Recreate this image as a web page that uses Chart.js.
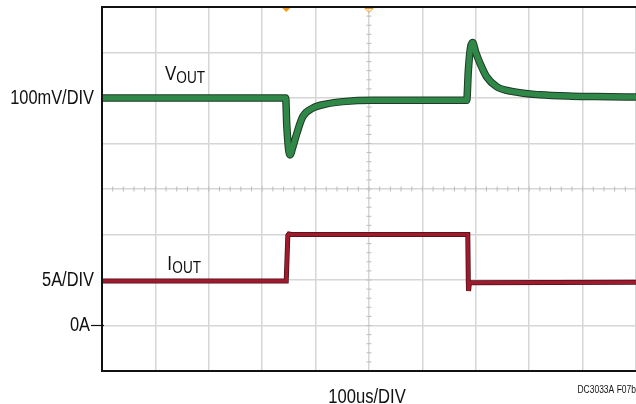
<!DOCTYPE html>
<html>
<head>
<meta charset="utf-8">
<script src="https://cdn.jsdelivr.net/npm/chart.js@4"></script>
<style>
html,body{margin:0;padding:0;background:#fff;}
canvas{display:block;}
</style>
</head>
<body>
<canvas id="c" width="636" height="404"></canvas>
<script>
// Time in microseconds (100us/DIV, 10 divisions)
const vTime = [0, 344, 346, 352, 358, 365, 376, 395, 421, 451, 507, 600, 683, 686, 690, 694, 700, 708, 720, 739, 770, 820, 880, 950, 1000];
// VOUT deviation in mV (100mV/DIV)
const vOut  = [0, 0, -60, -125, -105, -77, -41, -22, -13, -8, -5, -5, -5, 60, 110, 122, 100, 76, 47, 25, 14, 7, 4, 3, 2];
// IOUT in A (5A/DIV)
const iTime = [0, 345, 348, 350, 355, 685, 686, 686.5, 688, 1000];
const iOut  = [4.9, 4.9, 9.9, 10.05, 10.0, 10.0, 4.7, 3.8, 4.7, 4.75];

const xTicks = [0,100,200,300,400,500,600,700,800,900,1000];
const FONT = '"Liberation Sans", Arimo, Arial, sans-serif';

const vPts = vTime.map((t,i)=>({x:t,y:vOut[i]}));
const iPts = iTime.map((t,i)=>({x:t,y:iOut[i]}));

function txt(ctx, s, x, y, size, align, sx){
  ctx.save();
  ctx.font = size + 'px ' + FONT;
  ctx.textAlign = align;
  ctx.translate(x, y);
  ctx.scale(sx, 1);
  ctx.fillText(s, 0, 0);
  const w = ctx.measureText(s).width * sx;
  ctx.restore();
  return w;
}

const decor = {
  id:'decor',
  beforeDatasetsDraw(chart){
    const {ctx, scales:{x, yV}} = chart;
    ctx.save();
    ctx.strokeStyle = '#bdbdbd';
    ctx.lineWidth = 1;
    const cx = x.getPixelForValue(500);
    for (let v=-600; v<=200; v+=20){
      const py = yV.getPixelForValue(v);
      ctx.beginPath(); ctx.moveTo(cx-2.5,py); ctx.lineTo(cx+2.5,py); ctx.stroke();
    }
    const cy = yV.getPixelForValue(-200);
    for (let t=0; t<=1000; t+=20){
      const px = x.getPixelForValue(t);
      ctx.beginPath(); ctx.moveTo(px,cy-2.5); ctx.lineTo(px,cy+2.5); ctx.stroke();
    }
    ctx.restore();
  },
  afterDraw(chart){
    const {ctx, chartArea:a, scales:{x, yV, yI}} = chart;
    ctx.save();
    ctx.strokeStyle = '#111';
    ctx.lineWidth = 2;
    ctx.beginPath();
    ctx.moveTo(a.right, a.top); ctx.lineTo(a.left, a.top); ctx.lineTo(a.left, a.bottom); ctx.lineTo(a.right, a.bottom);
    ctx.stroke();
    const y0 = yI.getPixelForValue(0);
    ctx.lineWidth = 1.2;
    ctx.beginPath(); ctx.moveTo(a.left-11, y0); ctx.lineTo(a.left+2, y0); ctx.stroke();
    const m1 = x.getPixelForValue(345), m2 = x.getPixelForValue(500);
    ctx.fillStyle = '#f39a1e';
    ctx.beginPath(); ctx.moveTo(m1-4,a.top+1); ctx.lineTo(m1+4,a.top+1); ctx.lineTo(m1,a.top+5); ctx.closePath(); ctx.fill();
    ctx.strokeStyle = '#f39a1e'; ctx.lineWidth = 1;
    ctx.beginPath(); ctx.moveTo(m2-4,a.top+1.5); ctx.lineTo(m2+4,a.top+1.5); ctx.lineTo(m2,a.top+5.5); ctx.closePath(); ctx.stroke();

    ctx.fillStyle = '#111';
    ctx.textBaseline = 'middle';
    txt(ctx, '100mV/DIV', a.left-8, yV.getPixelForValue(0), 20, 'right', 0.82);
    txt(ctx, '5A/DIV', a.left-8, yI.getPixelForValue(5), 20, 'right', 0.82);
    txt(ctx, '0A', a.left-12, y0, 20, 'right', 0.82);
    ctx.textBaseline = 'alphabetic';
    txt(ctx, '100us/DIV', x.getPixelForValue(500)-2, 403, 20, 'center', 0.83);
    txt(ctx, 'DC3033A F07b', 636, 393, 10, 'right', 0.85);
    let lx = x.getPixelForValue(118);
    let w = txt(ctx, 'V', lx, 80, 20, 'left', 0.85);
    txt(ctx, 'OUT', lx + w, 82.5, 16, 'left', 0.85);
    lx = x.getPixelForValue(122);
    w = txt(ctx, 'I', lx, 270, 20, 'left', 0.85);
    txt(ctx, 'OUT', lx + w + 0.5, 273, 16, 'left', 0.85);
    ctx.restore();
  }
};

new Chart(document.getElementById('c'), {
  type: 'line',
  data: {
    datasets: [
      {data: vPts, yAxisID:'yV', order:4, borderColor:'#1f3a26', borderWidth:7.5, pointRadius:0, cubicInterpolationMode:'monotone'},
      {data: vPts, yAxisID:'yV', order:3, borderColor:'#2f8748', borderWidth:5.5, pointRadius:0, cubicInterpolationMode:'monotone'},
      {data: iPts, yAxisID:'yI', order:2, borderColor:'#4a1018', borderWidth:5, pointRadius:0, tension:0},
      {data: iPts, yAxisID:'yI', order:1, borderColor:'#a01a2e', borderWidth:3.5, pointRadius:0, tension:0}
    ]
  },
  options: {
    responsive:false,
    animation:false,
    events:[],
    layout:{padding:{left:102, top:7, right:0, bottom:33}},
    plugins:{legend:{display:false}, tooltip:{enabled:false}},
    scales:{
      x:{type:'linear', min:0, max:1000,
         afterBuildTicks(s){ s.ticks = xTicks.map(v=>({value:v})); },
         ticks:{display:false}, border:{display:false},
         grid:{color:'#d6d6d6', lineWidth:1.5, drawTicks:false}},
      yV:{type:'linear', position:'left', min:-600, max:200,
         ticks:{display:false, stepSize:100}, border:{display:false},
         grid:{color:'#d6d6d6', lineWidth:1.5, drawTicks:false}},
      yI:{type:'linear', position:'right', min:-5, max:35, display:false}
    }
  },
  plugins:[decor]
});
</script>
</body>
</html>
